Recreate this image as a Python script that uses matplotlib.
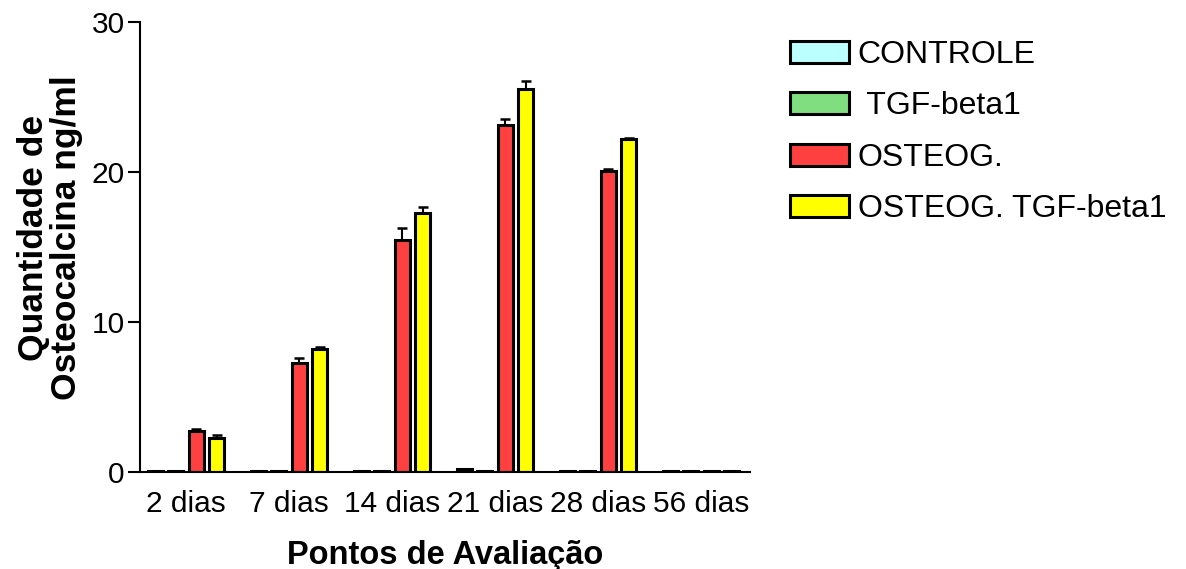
import matplotlib.pyplot as plt
import numpy as np

plt.rcParams['font.family'] = ['Liberation Sans', 'DejaVu Sans']

# data
pontos = ['2 dias', '7 dias', '14 dias', '21 dias', '28 dias', '56 dias']
grupos = ['CONTROLE', ' TGF-beta1', 'OSTEOG.', 'OSTEOG. TGF-beta1']
controle = [0.1, 0.1, 0.1, 0.2, 0.1, 0.1]
tgf = [0.1, 0.1, 0.1, 0.1, 0.1, 0.1]
osteog = [2.75, 7.3, 15.5, 23.15, 20.1, 0.1]
osteog_tgf = [2.3, 8.2, 17.3, 25.55, 22.2, 0.1]
err_controle = [0, 0, 0, 0, 0, 0]
err_tgf = [0, 0, 0, 0, 0, 0]
err_osteog = [0.12, 0.28, 0.8, 0.4, 0.08, 0]
err_osteog_tgf = [0.17, 0.12, 0.4, 0.55, 0.1, 0]
cores = ['#BBFFFF', '#80DD80', '#FF4040', '#FFFF00']

valores = [controle, tgf, osteog, osteog_tgf]
erros = [err_controle, err_tgf, err_osteog, err_osteog_tgf]

fig = plt.figure(figsize=(11.86, 5.69), dpi=100)
ax = fig.add_axes([140/1186, 1-472/569, 610/1186, 450/569])

x = np.arange(len(pontos))
for j in range(4):
    pos = x + (j - 1.5) * 0.2
    ax.bar(pos, valores[j], width=0.145, color=cores[j], edgecolor='black',
           linewidth=2.2, label=grupos[j], zorder=2)
    ax.errorbar(pos, valores[j], yerr=[np.zeros(6), erros[j]], fmt='none',
                ecolor='black', elinewidth=1.5, capsize=3.5, capthick=1.8, zorder=3)

ax.set_xlim(-0.447, 5.476)
ax.set_ylim(0, 30)
ax.set_yticks([0, 10, 20, 30])
ax.set_xticks(x)
ax.set_xticklabels(pontos)
ax.spines['top'].set_visible(False)
ax.spines['right'].set_visible(False)
ax.spines['left'].set_linewidth(1.5)
ax.spines['bottom'].set_linewidth(1.5)
ax.tick_params(axis='y', length=9, width=1.5, labelsize=21.5, pad=2)
ax.tick_params(axis='x', length=0, labelsize=21.5, pad=13)

ax.set_xlabel('Pontos de Avaliação', fontsize=23.5, fontweight='bold', labelpad=16)
fig.text(50/1186, 1-238/569, 'Quantidade de\nOsteocalcina ng/ml', rotation=90,
         ha='center', va='center', fontsize=25.5, fontweight='bold', linespacing=1.0)

ax.legend(loc='upper left', bbox_to_anchor=(790/1186, 1-40/569),
          bbox_transform=fig.transFigure, frameon=False, fontsize=23,
          handlelength=1.84, handleheight=0.69, handletextpad=0.28,
          labelspacing=0.67, borderpad=0, borderaxespad=0)

fig.savefig('out.png', dpi=100)
